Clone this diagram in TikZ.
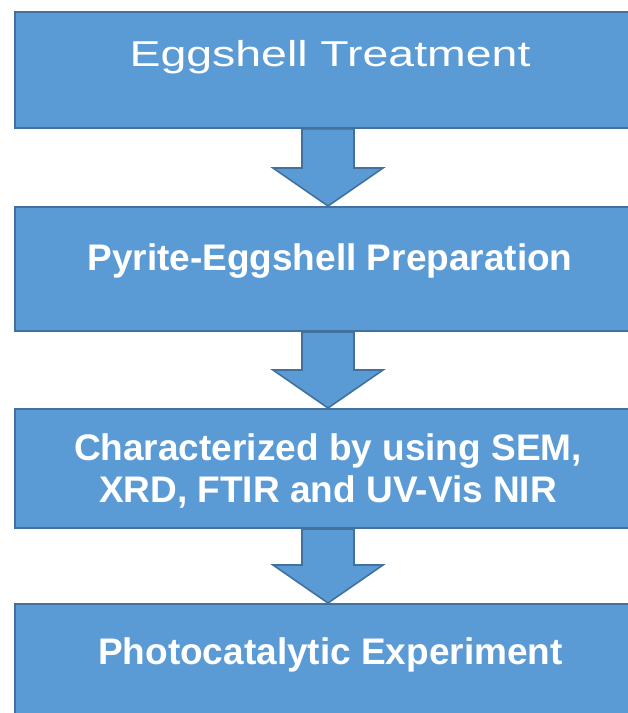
\documentclass[tikz,border=0pt]{standalone}
\usepackage{fontspec}
\setmainfont{Liberation Sans}
\usetikzlibrary{calc}
\definecolor{boxfill}{HTML}{5B9BD5}
\definecolor{boxline}{HTML}{41719C}
\tikzset{
  flowbox/.style={draw=boxline, fill=boxfill, line width=2pt, rectangle, inner sep=0pt, minimum width=631pt},
  flowarr/.style={draw=boxline, fill=boxfill, line width=1.6pt, line join=miter},
  boldlbl/.style={text=white, font=\fontsize{37}{42}\selectfont\bfseries, inner sep=0pt, anchor=base, align=center},
  plainlbl/.style={text=white, font=\fontsize{36}{40}\selectfont, inner sep=0pt, anchor=base}
}
\begin{document}
\begin{tikzpicture}[x=1pt,y=-1pt]
\useasboundingbox (0,0) rectangle (628,713);
% boxes
\node[flowbox, minimum height=116pt] (b1) at (330.5,69.7) {};
\node[flowbox, minimum height=124pt] (b2) at (330.5,269) {};
\node[flowbox, minimum height=119pt] (b3) at (330.5,468.5) {};
\node[flowbox, minimum height=130pt] (b4) at (330.5,669) {};
% arrows
\foreach \a/\b in {b1/b2, b2/b3, b3/b4}{
  \draw[flowarr] let \p1=(\a.south), \p2=(\b.north) in
    (\x1-28.5pt,\y1) -- (\x1-28.5pt,\y2+38pt) -- (\x1-57.5pt,\y2+38pt) --
    (\x1-2.5pt,\y2) -- (\x1+52.5pt,\y2+38pt) -- (\x1+23.5pt,\y2+38pt) --
    (\x1+23.5pt,\y1) -- cycle;
}
% labels
\node[plainlbl] (t1) at (330,66.7) {\scalebox{1.29}[1]{Eggshell Treatment}};
\node[boldlbl] (t2) at (330,270) {Pyrite-Eggshell Preparation};
\node[boldlbl, anchor=north] (t3) at (328,433) {Characterized by using SEM,\\XRD, FTIR and UV-Vis NIR};
\node[boldlbl] (t4) at (330.5,664) {Photocatalytic Experiment};
\end{tikzpicture}
\end{document}
